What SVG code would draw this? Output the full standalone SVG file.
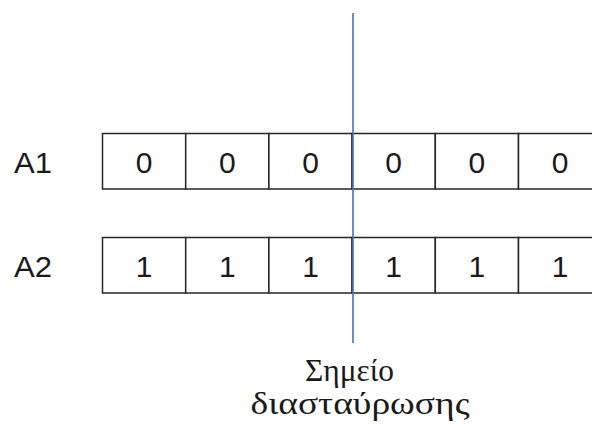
<svg xmlns="http://www.w3.org/2000/svg" width="592" height="427" viewBox="0 0 592 427">
<style>
.cell{fill:#fff;stroke:#262626;stroke-width:1.5}
.lbl{font-family:"Liberation Sans","Open Sans",sans-serif;font-size:30px;fill:#1a1a1a}
.dig{font-family:"Liberation Sans","Open Sans",sans-serif;font-size:30px;fill:#1a1a1a;text-anchor:middle}
.cap{font-family:"Liberation Serif","DejaVu Serif",serif;font-size:31px;fill:#1a1a1a;text-anchor:middle}
.cross{stroke:#4472C4;stroke-width:1.6;fill:none}
</style>
<g id="A1">
<text class="lbl" x="14" y="173" textLength="38" lengthAdjust="spacingAndGlyphs">A1</text>
<rect class="cell" x="102.5" y="133.5" width="83.2" height="55.5"/>
<rect class="cell" x="185.7" y="133.5" width="83.2" height="55.5"/>
<rect class="cell" x="268.9" y="133.5" width="83.2" height="55.5"/>
<rect class="cell" x="352.1" y="133.5" width="83.2" height="55.5"/>
<rect class="cell" x="435.3" y="133.5" width="83.2" height="55.5"/>
<rect class="cell" x="518.5" y="133.5" width="83.2" height="55.5"/>
<text class="dig" x="144.1" y="173">0</text>
<text class="dig" x="227.3" y="173">0</text>
<text class="dig" x="310.5" y="173">0</text>
<text class="dig" x="393.7" y="173">0</text>
<text class="dig" x="476.9" y="173">0</text>
<text class="dig" x="560.1" y="173">0</text>
</g>
<g id="A2">
<text class="lbl" x="14" y="277" textLength="38" lengthAdjust="spacingAndGlyphs">A2</text>
<rect class="cell" x="102.5" y="237.5" width="83.2" height="55.5"/>
<rect class="cell" x="185.7" y="237.5" width="83.2" height="55.5"/>
<rect class="cell" x="268.9" y="237.5" width="83.2" height="55.5"/>
<rect class="cell" x="352.1" y="237.5" width="83.2" height="55.5"/>
<rect class="cell" x="435.3" y="237.5" width="83.2" height="55.5"/>
<rect class="cell" x="518.5" y="237.5" width="83.2" height="55.5"/>
<text class="dig" x="144.1" y="277">1</text>
<text class="dig" x="227.3" y="277">1</text>
<text class="dig" x="310.5" y="277">1</text>
<text class="dig" x="393.7" y="277">1</text>
<text class="dig" x="476.9" y="277">1</text>
<text class="dig" x="560.1" y="277">1</text>
</g>
<g id="connectors">
<line class="cross" x1="353" y1="13" x2="353" y2="343"/>
</g>
<g id="crossover-label">
<text class="cap" x="349.5" y="381" textLength="89" lengthAdjust="spacingAndGlyphs">Σημείο</text>
<text class="cap" x="360" y="414" textLength="219" lengthAdjust="spacingAndGlyphs">διασταύρωσης</text>
</g>
</svg>
